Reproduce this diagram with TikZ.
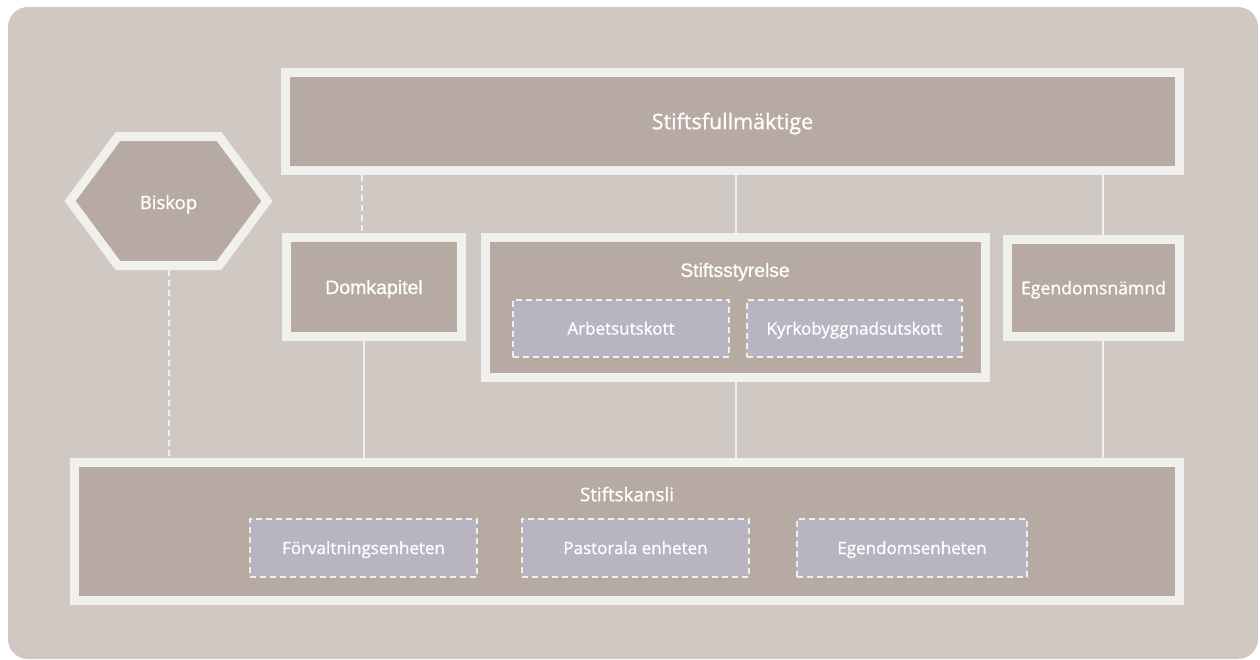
\documentclass[tikz,border=0pt]{standalone}
\usepackage{fontspec}
\setmainfont{Open Sans}[BoldFont={Open Sans}, BoldFeatures={FakeBold=1.0}]
\newfontfamily\arialf{Liberation Sans}[BoldFont={Liberation Sans}, BoldFeatures={FakeBold=0.7}]
\definecolor{bgc}{HTML}{D0C8C3}
\definecolor{boxc}{HTML}{B7AAA2}
\definecolor{framec}{HTML}{F0F0EC}
\definecolor{subc}{HTML}{B9B4C1}
\definecolor{dashc}{HTML}{EFEFEC}
\tikzset{
  orgbox/.style={draw=framec, line width=9pt, fill=boxc, text=white, inner sep=0pt, rectangle, text depth=0pt},
  subbox/.style={draw=dashc, line width=2pt, dash pattern=on 6pt off 4pt, fill=subc, text=white, inner sep=0pt, rectangle, minimum height=57pt, text height=12.1pt, text depth=0pt, font=\bfseries\fontsize{17}{18}\selectfont},
  link/.style={draw=framec, line width=2pt},
  dlink/.style={link, dash pattern=on 6pt off 4pt},
  lbl/.style={text=white, inner sep=0pt, text depth=0pt}
}
\begin{document}
\begin{tikzpicture}[x=1pt,y=-1pt]
\useasboundingbox (0,0) rectangle (1260,659);
\fill[bgc, rounded corners=20pt] (8,7) rectangle (1258,659);

% boxes
\node[orgbox, minimum width=894pt, minimum height=97.5pt, text height=15.3pt, font=\bfseries\fontsize{21.5}{24}\selectfont] (fullm) at (732.5,121.5) {Stiftsfullmäktige};
\node[orgbox, minimum width=175pt, minimum height=99pt, text height=14pt, font=\arialf\bfseries\fontsize{19.5}{22}\selectfont] (dom) at (374,287) {Domkapitel};
\node[orgbox, minimum width=500pt, minimum height=140pt] (styr) at (735.5,307.5) {};
\node[lbl, text height=13.8pt, font=\arialf\bfseries\fontsize{19.3}{22}\selectfont] (styrl) at (735,270) {Stiftsstyrelse};
\node[orgbox, minimum width=172pt, minimum height=97pt, text height=12.6pt, font=\bfseries\fontsize{17.6}{20}\selectfont] (egn) at (1093.5,288) {Egendomsnämnd};
\node[orgbox, minimum width=1105pt, minimum height=138pt] (kansli) at (627,531.5) {};
\node[lbl, text height=13.4pt, font=\bfseries\fontsize{18.8}{22}\selectfont] (kanslil) at (627,494.5) {Stiftskansli};

% sub boxes
\node[subbox, minimum width=216pt] (arb) at (621,328.5) {Arbetsutskott};
\node[subbox, minimum width=215pt] (kyrk) at (854.5,328.5) {Kyrkobyggnadsutskott};
\node[subbox, minimum width=227pt, minimum height=58pt] (forv) at (363.5,548) {Förvaltningsenheten};
\node[subbox, minimum width=227pt, minimum height=58pt] (past) at (635.5,548) {Pastorala enheten};
\node[subbox, minimum width=230pt, minimum height=58pt] (egenh) at (912,548) {Egendomsenheten};

% Biskop hexagon
\filldraw[fill=boxc, draw=framec, line width=9pt, line join=miter]
  (70,201) -- (118,136.5) -- (219,136.5) -- (267,201) -- (219,265.5) -- (118,265.5) -- cycle;
\node[lbl, text height=13.2pt, font=\bfseries\fontsize{18.5}{22}\selectfont] (bis) at (168.5,202.5) {Biskop};
\coordinate (bisb) at (168.5,270);

% connectors
\draw[dlink] ([xshift=-12pt]dom.north |- fullm.south) -- ([xshift=-12pt]dom.north);
\draw[link] (styr.north |- fullm.south) -- (styr.north);
\draw[link] ([xshift=9pt]egn.north |- fullm.south) -- ([xshift=9pt]egn.north);
\draw[link] ([xshift=-10pt]dom.south) -- ([xshift=-10pt]dom.south |- kansli.north);
\draw[link] (styr.south) -- (styr.south |- kansli.north);
\draw[link] ([xshift=9pt]egn.south) -- ([xshift=9pt]egn.south |- kansli.north);
\draw[dlink] (bisb) -- (bisb |- kansli.north);
\end{tikzpicture}
\end{document}
